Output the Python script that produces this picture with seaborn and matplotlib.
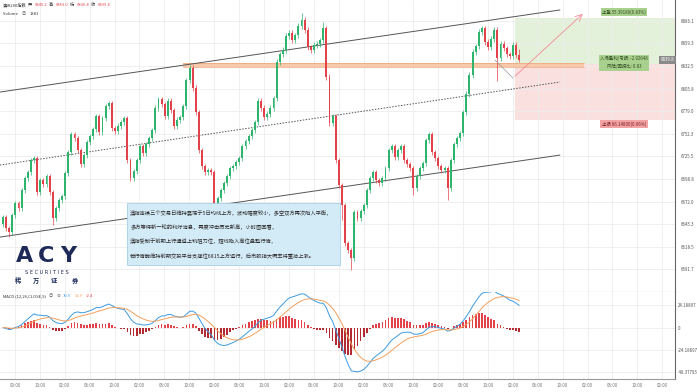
import numpy as np
import pandas as pd
import matplotlib.pyplot as plt
import seaborn as sns
from matplotlib.patches import Rectangle

sns.set_theme(style="white")
plt.rcParams['font.family'] = ['Noto Sans CJK SC', 'DejaVu Sans']

# ---------------------------
# data (30 min candles)
# ---------------------------
closes = [
    6653.6, 6640.5, 6635.8, 6655.9, 6670.1, 6664.2, 6685.5, 6699.8, 6706.9, 6721.1,
    6723.4, 6683.2, 6697.4, 6692.7, 6702.1, 6683.2, 6652.4, 6664.2, 6673.7, 6678.4,
    6705.7, 6730.6, 6751.9, 6747.1, 6732.9, 6716.3, 6727.0, 6742.4, 6749.5, 6757.8,
    6773.2, 6754.2, 6770.8, 6785.0, 6788.6, 6759.0, 6755.4, 6761.4, 6766.1, 6770.8,
    6721.1, 6699.8, 6708.1, 6721.1, 6737.7, 6729.4, 6740.0, 6747.1, 6756.6, 6782.7,
    6793.3, 6787.4, 6773.2, 6791.0, 6780.3, 6761.4, 6768.5, 6772.0, 6785.0, 6815.8,
    6830.1, 6806.4, 6777.9, 6732.9, 6714.0, 6706.9, 6709.2, 6706.9, 6667.8, 6676.1,
    6685.5, 6693.8, 6702.1, 6711.6, 6714.0, 6718.7, 6723.4, 6737.7, 6743.6, 6749.5,
    6756.6, 6766.1, 6791.0, 6782.7, 6772.0, 6775.6, 6782.7, 6794.5, 6837.2, 6846.6,
    6851.4, 6868.0, 6871.5, 6863.2, 6869.1, 6879.8, 6886.9, 6875.1, 6854.9, 6851.4,
    6857.3, 6858.5, 6863.2, 6877.4, 6819.4, 6764.9, 6773.2, 6721.1, 6691.5, 6667.8,
    6622.8, 6614.5, 6605.0, 6659.5, 6652.4, 6660.7, 6667.8, 6685.5, 6699.8, 6706.9,
    6697.4, 6693.8, 6699.8, 6711.6, 6732.9, 6737.7, 6724.6, 6732.9, 6737.7, 6721.1,
    6716.3, 6711.6, 6687.9, 6702.1, 6711.6, 6717.5, 6744.8, 6751.9, 6730.6, 6723.4,
    6714.0, 6709.2, 6711.6, 6687.9, 6721.1, 6740.0, 6747.1, 6753.1, 6777.9, 6799.3,
    6821.8, 6849.0, 6856.1, 6872.7, 6877.4, 6860.9, 6854.9, 6864.4, 6875.1, 6841.9,
    6858.5, 6853.7, 6846.6, 6844.3, 6857.3, 6845.2, 6839.8]
first_open = 6645.0
wick = 3.0
high_override = {60: 6834.0, 96: 6895.0, 103: 6885.0, 166: 6853.0}
low_override = {2: 6630.0, 16: 6644.0, 68: 6643.0, 109: 6650.0, 112: 6590.8,
                132: 6680.0, 143: 6674.0, 159: 6815.0, 166: 6836.8}

time_labels = ['09:00', '10:00'] + ['02:00', '06:00', '10:00'] * 8 + ['02:00']
price_ticks = [6886.1, 6859.3, 6832.5, 6805.8, 6779.0, 6752.3,
               6725.5, 6698.8, 6672.0, 6645.3, 6618.5, 6591.7]
macd_ticks = [24.18897, 0, -24.18897, -48.37793]

# drawn trend channel (index, price)
upper_line = [(-1.0, 6801.6), (179.1, 6898.8)]
mid_line = [(-1.0, 6715.2), (179.1, 6813.5)]
lower_line = [(-1.0, 6629.9), (179.1, 6727.0)]

entry_price = 6834.4
take_profit = 55.39186
stop_loss = 66.14800
last_price = 6839.8

comment_lines = [
    "澳指连续三个交易日维持震荡于5日均线上方，波动幅度较小，多空双方再次陷入平衡，",
    "多方等待新一轮的利好消息，再度冲击历史新高，小时图回看，",
    "澳指受制于前期上行通道上轨阻力位，短线陷入高位盘整行情，",
    "若行情能维持前期交投平台支撑位6815上方运行，后市股指大概率将重拾上涨。",
]

GREEN = '#2fb46e'
RED = '#e2434b'
GRID = '#ededed'
AXC = '#666666'

# ---------------------------
# build OHLC + MACD
# ---------------------------
df = pd.DataFrame({'close': closes})
df['open'] = [first_open] + closes[:-1]
df['high'] = df[['open', 'close']].max(axis=1) + wick
df['low'] = df[['open', 'close']].min(axis=1) - wick
for k, v in high_override.items():
    df.loc[k, 'high'] = v
for k, v in low_override.items():
    df.loc[k, 'low'] = v
df['idx'] = np.arange(len(df))
ema12 = df['close'].ewm(span=12, adjust=False).mean()
ema26 = df['close'].ewm(span=26, adjust=False).mean()
df['macd'] = ema12 - ema26
df['signal'] = df['macd'].ewm(span=9, adjust=False).mean()
df['hist'] = df['macd'] - df['signal']

# ---------------------------
# figure
# ---------------------------
fig = plt.figure(figsize=(6.97, 3.92), dpi=100)
ax = fig.add_axes([0, 0.2551, 0.9684, 0.7449])
ax2 = fig.add_axes([0, 0.0332, 0.9684, 0.2219], sharex=ax)

xmin, xmax = -0.96, 216.1
tick_pos = 3.86 + 8.006 * np.arange(len(time_labels))

# price panel
ax.set_xlim(xmin, xmax)
ax.set_ylim(6564.9, 6910.6)
ax.set_xticks(tick_pos)
ax.set_yticks(price_ticks)
ax.set_yticklabels([f"{p:.1f}" for p in price_ticks])
ax.grid(True, color=GRID, lw=0.6)
ax.set_axisbelow(True)
ax.yaxis.tick_right()
ax.tick_params(axis='y', labelsize=3.2, colors='#555555', length=0, pad=4)
ax.tick_params(axis='x', labelbottom=False, length=0)
for s in ['top', 'left']:
    ax.spines[s].set_visible(False)
ax.spines['right'].set_color(AXC)
ax.spines['right'].set_linewidth(0.8)
ax.spines['bottom'].set_color('#999999')
ax.spines['bottom'].set_linewidth(0.8)

# risk / reward box
x0 = 164.6
ax.add_patch(Rectangle((x0, entry_price), xmax - x0, take_profit,
                       color='#e4f1da', lw=0, zorder=0.5))
ax.add_patch(Rectangle((x0, entry_price - stop_loss), xmax - x0, stop_loss,
                       color='#fbe0e0', lw=0, zorder=0.5))

# support band
ax.fill_between([57.9, 187.0], 6831.8, 6836.6, color='#f6c9aa', lw=0, zorder=1)
ax.plot([57.9, 187.0], [6831.8, 6831.8], color='#f0a47a', lw=0.5, zorder=1)
ax.plot([57.9, 187.0], [6836.6, 6836.6], color='#f0a47a', lw=0.5, zorder=1)

# channel
for line, ls in [(upper_line, '-'), (lower_line, '-'), (mid_line, (0, (1.5, 1.5)))]:
    xs, ys = zip(*line)
    ax.plot(xs, ys, color='#555555', lw=0.7, ls=ls, zorder=2)

# candles
colors = np.where(df['close'] >= df['open'], GREEN, RED)
ax.vlines(df['idx'], df['low'], df['high'], color=colors, lw=0.5, zorder=3)
body = (df['close'] - df['open']).abs().clip(lower=0.9)
ax.bar(df['idx'], body, bottom=df[['open', 'close']].min(axis=1), width=0.62,
       color=colors, lw=0, zorder=4)

# projected path
ax.plot([158.2, 164.0], [6839.5, 6818.2], color='#9a9a9a', lw=0.5, zorder=5)
ax.annotate('', xy=(187.1, 6896.4), xytext=(164.0, 6818.2),
            arrowprops=dict(arrowstyle='->', color='#f28b95', lw=0.6), zorder=5)

# risk labels
lab = dict(fontsize=3.2, ha='center', va='center', zorder=6)
ax.text(199.7, 6896.4, f"止盈 {take_profit:.5f}(0.83%)", color='#2d4a1c',
        bbox=dict(boxstyle='square,pad=0.35', fc='#a9d18e', ec='none'), **lab)
ax.text(199.7, 6836.5, "入场盈利/亏损: -2.92648\n风险/回报比: 0.83", color='#2d4a1c',
        linespacing=1.6,
        bbox=dict(boxstyle='square,pad=0.35', fc='#a9d18e', ec='none'), **lab)
ax.text(199.7, 6763.7, f"止损 {stop_loss:.5f}(0.96%)", color='#7a1e1e',
        bbox=dict(boxstyle='square,pad=0.35', fc='#f3a3a3', ec='none'), **lab)
ax.text(xmax - 0.3, last_price, f"{last_price:.1f}", color='white', fontsize=3.2,
        ha='right', va='center', zorder=6,
        bbox=dict(boxstyle='square,pad=0.35', fc='#8a8a8a', ec='none'))

# comment box
ax.add_patch(Rectangle((39.9, 6596.7), 68.5, 73.4, fc='#d3eaf7', ec='#a5cfe9',
                       lw=0.6, zorder=6))
for k, line in enumerate(comment_lines):
    ax.text(40.9, 6658.3 - k * 16.9, line, fontsize=3.8, color='#2b2b2b',
            style='italic', ha='left', va='center', zorder=7)

# MACD panel
ax2.set_ylim(-56.0, 38.7)
ax2.set_yticks(macd_ticks)
ax2.set_yticklabels(['24.18897', '0', '-24.18897', '-48.37793'])
ax2.grid(True, color=GRID, lw=0.6)
ax2.set_axisbelow(True)
ax2.yaxis.tick_right()
ax2.tick_params(axis='y', labelsize=3.2, colors='#555555', length=0, pad=2)
ax2.set_xticks(tick_pos)
ax2.set_xticklabels(time_labels)
ax2.tick_params(axis='x', labelsize=3.2, colors='#777777', length=0, pad=3)
for s in ['top', 'left']:
    ax2.spines[s].set_visible(False)
ax2.spines['right'].set_color(AXC)
ax2.spines['right'].set_linewidth(0.8)
ax2.spines['bottom'].set_color('#999999')
ax2.spines['bottom'].set_linewidth(0.8)

hist_col = np.where(df['hist'] >= 0, RED, '#b22b33')
ax2.bar(df['idx'], df['hist'], width=0.55, color=hist_col, lw=0)
sns.lineplot(data=df, x='idx', y='macd', ax=ax2, color='#3d9be0', lw=0.7)
sns.lineplot(data=df, x='idx', y='signal', ax=ax2, color='#f3a05e', lw=0.7)
ax2.set_xlabel('')
ax2.set_ylabel('')
ax2.set_xlim(xmin, xmax)

# ---------------------------
# header texts
# ---------------------------
fig.canvas.draw()
r = fig.canvas.get_renderer()


def seq(parts, x_px, y_px, size, gap=2.0):
    x = x_px
    for txt, col in parts:
        t = fig.text(x / 697, 1 - y_px / 392, txt, color=col, fontsize=size,
                     va='center', ha='left')
        bb = t.get_window_extent(renderer=r)
        x = x + bb.width + gap


seq([("澳洲200指数", '#333333'), ("开:", '#333333'), ("6845.2", RED),
     ("高:", '#333333'), ("6853.0", RED), ("低:", '#333333'), ("6836.8", RED),
     ("收:", '#333333'), ("6839.8", RED)], 3, 5, 3.0, gap=1.5)
seq([("Volume", '#333333'), ("◎", '#777777'), ("1381", '#333333')], 3, 14, 3.0, gap=4)
seq([("MACD (12,26,CLOSE,9)", '#333333'), ("◎", '#777777'), ("⊗", '#777777'),
     ("30.5", '#3d9be0'), ("32.9", '#f3a05e'), ("-2.4", RED)], 3, 296, 3.0, gap=3)

# logo
NAVY = '#1d2a57'
for ch, xp in [("A", 25), ("C", 46), ("Y", 68)]:
    fig.text(xp / 697, 1 - 256 / 392, ch, fontsize=16, fontweight='bold',
             color=NAVY, ha='center', va='center', family='DejaVu Sans')
fig.text(47 / 697, 1 - 272 / 392, "S E C U R I T I E S", fontsize=3.6,
         color=NAVY, ha='center', va='center', family='DejaVu Sans')
for ch, xp in [("稀", 18), ("万", 36), ("证", 54), ("券", 75)]:
    fig.text(xp / 697, 1 - 280 / 392, ch, fontsize=4.5, color=NAVY,
             ha='center', va='center', fontweight='bold')

fig.savefig('out.png', dpi=100)
